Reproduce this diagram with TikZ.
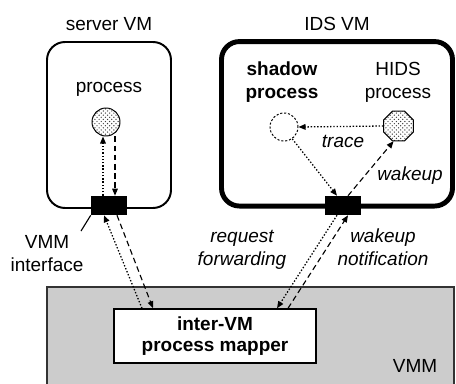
\documentclass[tikz,border=0pt]{standalone}
\usepackage{fontspec}
\setmainfont{Liberation Sans}
\usetikzlibrary{shapes.geometric,patterns,arrows.meta}

\begin{document}
\begin{tikzpicture}[
  font=\fontsize{13.5}{16.5}\selectfont,
  vmbox/.style={draw, rounded corners=0.45cm, inner sep=0pt},
  ifbox/.style={fill=black, minimum width=0.9cm, minimum height=0.475cm, inner sep=0pt},
  procnode/.style={circle, draw, line width=0.7pt, minimum size=0.7cm, inner sep=0pt},
  dotarrow/.style={-{Triangle[length=5pt,width=4pt]}, line width=0.9pt, dash pattern=on 1pt off 1.3pt},
  dasharrow/.style={-{Triangle[length=5pt,width=4pt]}, line width=0.8pt, dash pattern=on 4pt off 2.5pt},
  twoline/.style={align=center, inner sep=0pt},
]
\useasboundingbox (0,0) rectangle (11.4,9.575);

% VMM layer
\fill[black!20] (1.175,-0.2) rectangle (11.35,2.4);
\draw[black!80, line width=1.4pt] (1.175,-0.2) -- (1.175,2.4) -- (11.35,2.4) -- (11.35,-0.2);
\node (vmmlbl) [anchor=base] at (10.375,0.26) {VMM};
\node (mapper) [draw, fill=white, line width=1pt, minimum width=5.05cm, minimum height=1.35cm,
  align=center, font=\bfseries\fontsize{13.5}{15}\selectfont] at (5.375,1.175) {inter-VM\\process mapper};

% the two VMs
\node (servervm) [vmbox, line width=1.4pt, minimum width=3.1cm, minimum height=4.15cm] at (2.725,6.45) {};
\node (idsvm) [vmbox, line width=3.5pt, minimum width=5.775cm, minimum height=4.1125cm] at (8.425,6.48) {};
\node (srvlbl) [anchor=base] at (2.725,8.825) {server VM};
\node (idslbl) [anchor=base] at (8.425,8.825) {IDS VM};

\node (proclbl) [anchor=base] at (2.725,7.275) {process};
\node (proc) [procnode, pattern=crosshatch dots, pattern color=black!75] at (2.65,6.525) {};
\node (shadowlbl) [twoline, font=\bfseries\fontsize{13.5}{16.5}\selectfont] at (7.05,7.52) {shadow\\process};
\node (hidslbl) [twoline] at (9.95,7.52) {HIDS\\process};
\node (shadow) [procnode, dash pattern=on 1.5pt off 1.3pt] at (7.1,6.4) {};
\node (hids) [regular polygon, regular polygon sides=8, draw, line width=0.7pt, minimum size=0.8cm,
  inner sep=0pt, pattern=crosshatch dots, pattern color=black!75] at (9.9625,6.425) {};

\node (lif) [ifbox] at (2.725,4.4375) {};
\node (rif) [ifbox] at (8.575,4.4375) {};

\coordinate (iflead) at (2.025,3.8);
\draw[line width=0.8pt] (lif.south west) -- (iflead);
\node (iflbl) [twoline] at (1.175,3.245) {VMM\\interface};

% server VM side
\draw[dotarrow] ([xshift=-0.15cm]lif.north) -- ([xshift=-0.15cm]lif.north |- proc.south);
\draw[dasharrow] ([xshift=0.15cm]lif.north |- proc.south) -- ([xshift=0.15cm]lif.north);
\draw[dotarrow] ([xshift=-1.825cm]mapper.north) -- ([xshift=-0.125cm]lif.south);
\draw[dasharrow] ([xshift=0.2cm]lif.south) -- ([xshift=-1.55cm]mapper.north);

% IDS VM side
\draw[dotarrow] (hids.west) -- (shadow.east);
\draw[dotarrow] (shadow.305) -- ([xshift=-0.15cm]rif.north);
\draw[dasharrow] ([xshift=0.125cm]rif.north) -- (hids.252);
\draw[dotarrow] ([xshift=-0.15cm]rif.south) -- ([xshift=1.55cm]mapper.north);
\draw[dasharrow] ([xshift=1.825cm]mapper.north) -- ([xshift=0.125cm]rif.south);

\node (tracelbl) [anchor=base, font=\itshape\fontsize{13.5}{16.5}\selectfont] at (8.575,5.88) {trace};
\node (wakelbl) [anchor=base, font=\itshape\fontsize{13.5}{16.5}\selectfont] at (10.25,5.075) {wakeup};
\node (reqlbl) [twoline, font=\itshape\fontsize{13.5}{16.5}\selectfont] at (6.05,3.33) {request\\forwarding};
\node (notelbl) [twoline, font=\itshape\fontsize{13.5}{16.5}\selectfont] at (9.575,3.39) {wakeup\\notification};
\end{tikzpicture}
\end{document}
